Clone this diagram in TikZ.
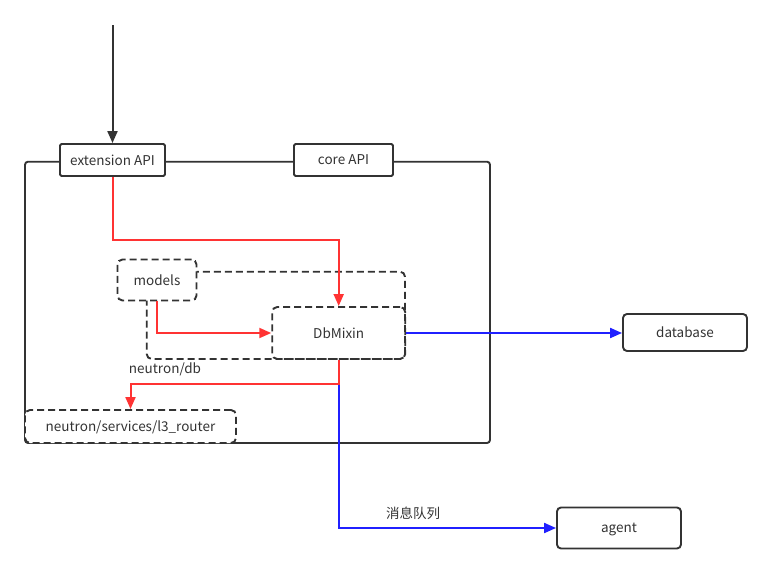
\documentclass[tikz,border=0pt]{standalone}
\usepackage{fontspec}
\setmainfont{Noto Sans CJK SC}
\usetikzlibrary{arrows.meta}
\definecolor{ink}{HTML}{333333}
\definecolor{redl}{HTML}{FF3333}
\definecolor{bluel}{HTML}{2020FF}
\tikzset{
  box/.style={draw=ink, line width=1.9pt, fill=white, rounded corners=1.5pt, text=ink, font=\fontsize{13.5}{15}\selectfont, inner sep=0pt, text depth=0pt, yshift=0pt},
  rbox/.style={box, rounded corners=4pt},
  dbox/.style={box, rounded corners=5pt, dash pattern=on 7pt off 4pt},
  lbl/.style={text=ink, font=\fontsize{13.5}{15}\selectfont, inner sep=0pt},
  tip/.style={-{Triangle[length=12pt,width=10pt]}},
  redc/.style={draw=redl, line width=2pt},
  bluec/.style={draw=bluel, line width=2pt},
}
\begin{document}
\begin{tikzpicture}[x=1pt,y=-1pt]
\useasboundingbox (0,0) rectangle (772,573);
% outer container
\draw[draw=ink, line width=1.9pt, rounded corners=3pt] (25,161.7) rectangle (490,443);
% neutron/db container
\draw[draw=ink, line width=1.9pt, rounded corners=5pt, dash pattern=on 7pt off 4pt] (146.7,271.7) rectangle (405,359);
% nodes
\node[box, minimum width=105pt, minimum height=32pt] (ext) at (112.5,160) {extension API};
\node[box, minimum width=99pt, minimum height=32pt] (core) at (343.5,160) {core API};
\node[dbox, minimum width=79pt, minimum height=41pt] (models) at (157,280) {models};
\node[dbox, minimum width=133pt, minimum height=52pt, fill=none] (dbm) at (338.7,333) {DbMixin};
\node[dbox, minimum width=211pt, minimum height=33pt] (l3) at (130.5,426.5) {neutron/services/l3\_router};
\node[rbox, minimum width=124pt, minimum height=37pt] (db) at (685,332.5) {database};
\node[rbox, minimum width=124pt, minimum height=41pt] (agent) at (619,528) {agent};
\node[lbl] (ndb) at (165,369) {neutron/db};
\node[lbl] (mq) at (413,513) {消息队列};
\coordinate (top) at (112.5,25);
% connectors
\draw[draw=ink, line width=2pt, tip] (top) -- (ext.north);
\draw[redc, tip] (ext.south) -- (ext.south |- 0,240) -| (dbm.north);
\draw[redc, tip] (models.south) |- (dbm.west);
\draw[bluec, tip] (dbm.east) -- (dbm.east -| db.west);
\draw[bluec, tip] (dbm.south) |- (agent.west);
\draw[redc, tip] (dbm.south) -- (dbm.south |- 0,384) -| (l3.north);
\end{tikzpicture}
\end{document}
